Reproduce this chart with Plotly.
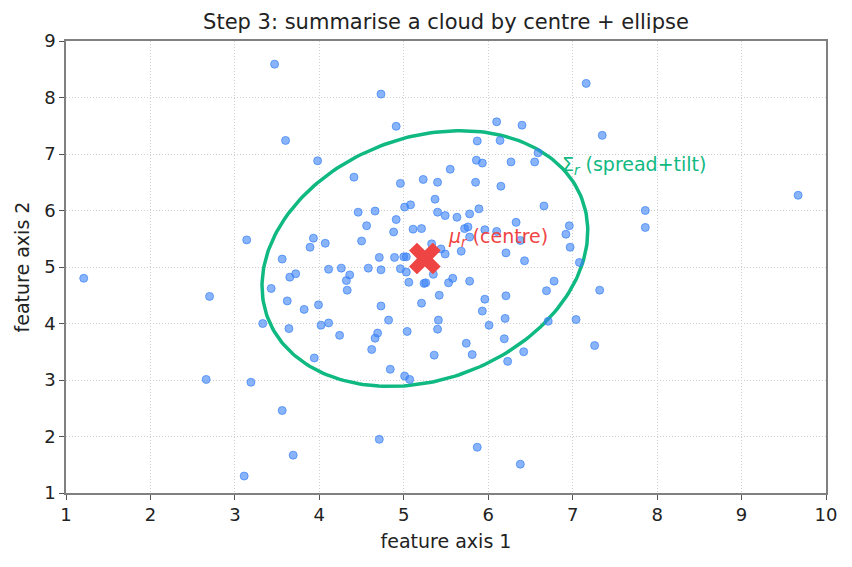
import numpy as np
import plotly.graph_objects as go

# ---- data ----
px = [3.47, 3.60, 3.98, 3.14, 3.93, 3.89, 3.56,
      4.73, 4.91, 6.10, 6.40, 5.87, 6.14, 6.59,
      5.86, 5.93, 6.27, 6.55, 5.55, 4.41, 4.96, 5.23, 5.40, 5.85, 6.15, 5.37, 5.01, 5.08, 6.66,
      4.46, 4.66, 5.40, 5.49, 5.63, 5.78, 5.89, 4.56, 4.91, 6.33, 4.88, 5.11, 5.21, 5.72, 5.76,
      5.96, 6.10, 5.78, 6.38, 4.07, 4.50, 5.33, 5.44, 5.49, 5.68, 6.21, 6.43, 4.71, 4.89, 5.00,
      5.03, 4.11, 4.26, 4.58, 4.73, 4.96,
      4.36, 4.32, 4.33, 5.03, 5.06, 5.24, 5.26, 5.35, 5.53, 5.58, 5.78, 6.69, 6.78, 3.82, 3.99,
      4.02, 4.11, 4.24, 3.94, 4.73, 4.82, 4.69, 4.66, 4.62, 4.84, 5.01, 5.07, 5.04, 5.21, 5.42,
      5.41, 5.40, 5.36, 5.96, 5.93, 6.01, 6.21, 6.20, 6.19, 6.23, 6.42, 5.74, 5.81, 6.71, 4.71,
      5.87, 6.38,
      1.21, 2.70, 2.66, 3.19, 3.56, 3.69, 3.11, 3.65, 3.72, 3.43, 3.62, 3.33, 3.64,
      7.16, 7.35, 9.67, 7.86, 7.86, 6.96, 6.92, 6.97, 7.08, 7.32, 7.04, 7.26]
py = [8.59, 7.24, 6.88, 5.48, 5.51, 5.35, 5.14,
      8.06, 7.49, 7.57, 7.51, 7.23, 7.24, 7.02,
      6.89, 6.84, 6.86, 6.86, 6.73, 6.59, 6.48, 6.55, 6.50, 6.50, 6.43, 6.20, 6.06, 6.10, 6.08,
      5.97, 5.99, 5.97, 5.91, 5.88, 5.94, 6.03, 5.73, 5.84, 5.79, 5.62, 5.67, 5.68, 5.68, 5.71,
      5.66, 5.63, 5.53, 5.47, 5.42, 5.46, 5.41, 5.32, 5.23, 5.28, 5.25, 5.11, 5.17, 5.17, 5.18,
      5.18, 4.96, 4.98, 4.98, 4.95, 4.97,
      4.86, 4.76, 4.59, 4.91, 4.73, 4.71, 4.72, 4.87, 4.72, 4.80, 4.75, 4.58, 4.75, 4.25, 4.33,
      3.97, 4.01, 3.79, 3.39, 4.31, 4.06, 3.83, 3.74, 3.54, 3.19, 3.07, 3.01, 3.86, 4.36, 4.50,
      4.06, 3.90, 3.44, 4.43, 4.22, 3.97, 4.49, 4.09, 3.73, 3.33, 3.50, 3.65, 3.45, 4.04, 1.95,
      1.81, 1.51,
      4.80, 4.48, 3.01, 2.96, 2.46, 1.67, 1.30, 4.82, 4.88, 4.62, 4.40, 4.00, 3.91,
      8.25, 7.33, 6.27, 6.00, 5.70, 5.73, 5.58, 5.35, 5.08, 4.59, 4.07, 3.61]

centre = [5.25, 5.15]
cov = [[0.93, 0.235], [0.235, 1.28]]
n_std = 2.0
x_ticks = [1, 2, 3, 4, 5, 6, 7, 8, 9, 10]
y_ticks = [1, 2, 3, 4, 5, 6, 7, 8, 9]

# ---- ellipse from centre + covariance ----
vals, vecs = np.linalg.eigh(np.array(cov))
t = np.linspace(0, 2 * np.pi, 240)
circ = np.vstack([np.cos(t), np.sin(t)])
ell = vecs @ (np.sqrt(vals)[:, None] * n_std * circ)
ex = ell[0] + centre[0]
ey = ell[1] + centre[1]

GREEN = "#10b981"
RED = "#ef4444"
FONT = "DejaVu Sans"
TXT = "#222222"

fig = go.Figure()
fig.add_trace(go.Scatter(x=ex, y=ey, mode="lines",
                         line=dict(color=GREEN, width=3.5), hoverinfo="skip"))
fig.add_trace(go.Scatter(x=px, y=py, mode="markers",
                         marker=dict(size=8, color="rgba(59,130,246,0.6)",
                                     line=dict(color="rgba(59,130,246,0.7)", width=1))))
fig.add_trace(go.Scatter(x=[centre[0]], y=[centre[1]], mode="markers",
                         marker=dict(symbol="x", size=28, color=RED,
                                     line=dict(width=0))))

fig.add_annotation(x=5.5, y=5.53, xref="x", yref="y", xanchor="left", yanchor="middle",
                   text="<i>μ<sub>r</sub></i> (centre)", showarrow=False,
                   font=dict(family=FONT, size=19, color=RED))
fig.add_annotation(x=6.85, y=6.79, xref="x", yref="y", xanchor="left", yanchor="middle",
                   text="Σ<sub><i>r</i></sub> (spread+tilt)", showarrow=False,
                   font=dict(family=FONT, size=19, color=GREEN))

axis_common = dict(showline=True, linecolor="#808080", linewidth=1.5, mirror=True,
                   ticks="outside", ticklen=5, tickwidth=1.2, tickcolor="#555555",
                   showgrid=True, gridcolor="#cfcfcf", griddash="1px,2px", gridwidth=1,
                   zeroline=False, tickfont=dict(family=FONT, size=18, color=TXT),
                   title_font=dict(family=FONT, size=19, color=TXT))

fig.update_layout(
    width=852, height=567,
    margin=dict(l=66, r=26, t=41, b=74),
    plot_bgcolor="white", paper_bgcolor="white",
    showlegend=False,
    title=dict(text="Step 3: summarise a cloud by centre + ellipse",
               x=0.5, xref="paper", xanchor="center", y=0.961, yanchor="middle",
               font=dict(family=FONT, size=21, color=TXT)),
    xaxis=dict(range=[1, 10], tickvals=x_ticks, title=dict(text="feature axis 1", standoff=10),
               **axis_common),
    yaxis=dict(range=[1, 9], tickvals=y_ticks, title=dict(text="feature axis 2", standoff=10),
               **axis_common),
)

fig.write_html("out.html")
